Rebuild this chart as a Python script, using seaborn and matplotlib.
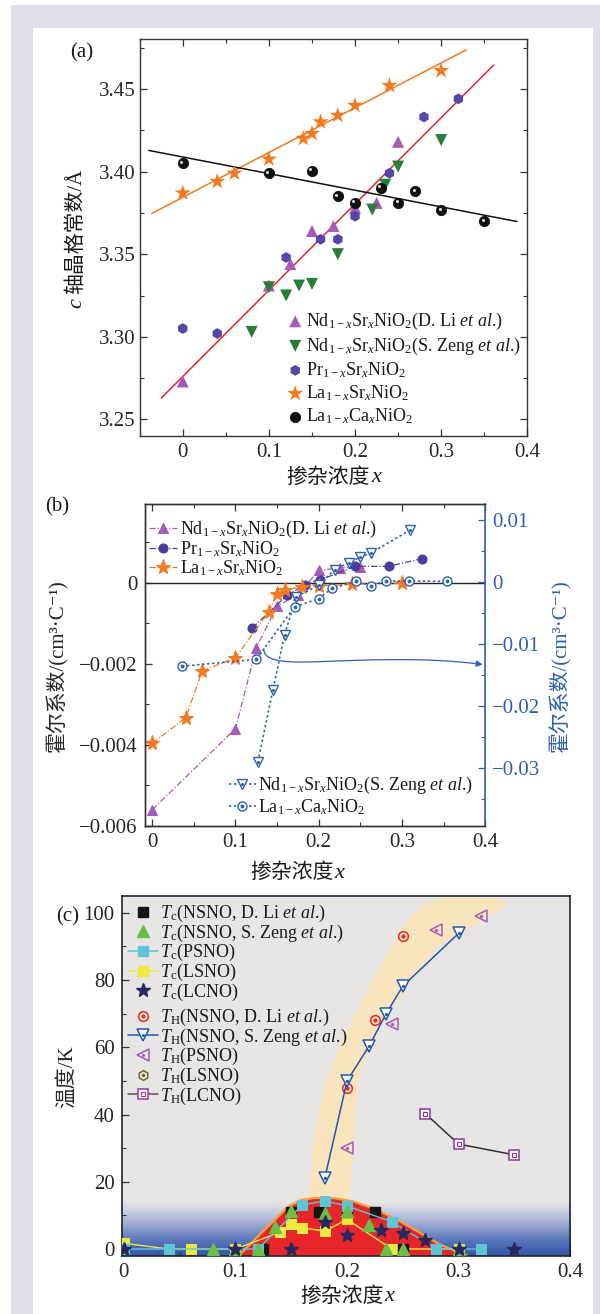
import numpy as np
import seaborn as sns
import matplotlib.pyplot as plt
import matplotlib.transforms as mtransforms
from matplotlib.path import Path
from matplotlib.patches import Rectangle, FancyArrowPatch
from matplotlib.colors import LinearSegmentedColormap
from matplotlib.lines import Line2D
from matplotlib.legend_handler import HandlerTuple
from matplotlib.ticker import MultipleLocator, FuncFormatter

# ---------------- data: panel (a), c-axis lattice constant ----------------
nd_li_x = [0, 0.1, 0.125, 0.15, 0.175, 0.2, 0.225, 0.25]
nd_li_c = [3.273, 3.331, 3.344, 3.364, 3.367, 3.378, 3.381, 3.418]
nd_zeng_x = [0.08, 0.1, 0.12, 0.135, 0.15, 0.18, 0.22, 0.235, 0.25, 0.3]
nd_zeng_c = [3.303, 3.330, 3.325, 3.331, 3.332, 3.350, 3.377, 3.392, 3.403, 3.419]
pr_x = [0, 0.04, 0.12, 0.16, 0.18, 0.2, 0.24, 0.28, 0.32]
pr_c = [3.305, 3.302, 3.348, 3.359, 3.359, 3.373, 3.399, 3.433, 3.444]
la_sr_x = [0, 0.04, 0.06, 0.1, 0.14, 0.15, 0.16, 0.18, 0.2, 0.24, 0.3]
la_sr_c = [3.387, 3.394, 3.399, 3.4075, 3.420, 3.423, 3.430, 3.434, 3.440, 3.452, 3.461]
la_ca_x = [0, 0.1, 0.15, 0.18, 0.2, 0.23, 0.25, 0.27, 0.3, 0.35]
la_ca_c = [3.405, 3.399, 3.4005, 3.385, 3.381, 3.390, 3.381, 3.388, 3.3765, 3.370]
# linear fits: slope, intercept, x range
fit_nd = (0.522, 3.276, -0.025, 0.361)
fit_la_sr = (0.271, 3.3844, -0.036, 0.329)
fit_la_ca = (-0.1006, 3.4088, -0.0395, 0.388)

# ---------------- data: panel (b), Hall coefficient ----------------
hall_li_x = [0, 0.1, 0.125, 0.15, 0.175, 0.2, 0.225, 0.25]
hall_li = [-0.0056, -0.0036, -0.0016, -0.00058, -0.0003, 0.0003, 0.00036, 0.00039]
hall_pr_x = [0.12, 0.162, 0.184, 0.202, 0.244, 0.284, 0.324]
hall_pr = [-0.00112, -0.00031, -0.00005, 0.00007, 0.0004, 0.0004, 0.00059]
hall_la_sr_x = [0, 0.04, 0.06, 0.1, 0.14, 0.15, 0.16, 0.18, 0.2, 0.24, 0.3]
hall_la_sr = [-0.00396, -0.00334, -0.00218, -0.00185, -0.00072, -0.00027,
              -0.00018, -0.0001, -0.00008, -0.00004, -0.00001]
hall_zeng_x = [0.127, 0.145, 0.159, 0.173, 0.2, 0.219, 0.236, 0.25, 0.263, 0.31]
hall_zeng = [-0.029, -0.0174, -0.0085, -0.0024, -0.0005, 0.002, 0.0031, 0.004, 0.0047, 0.0084]
hall_la_ca_x = [0.036, 0.125, 0.171, 0.2, 0.216, 0.245, 0.263, 0.281, 0.308, 0.354]
hall_la_ca = [-0.0136, -0.0125, -0.0040, -0.0027, -0.0010, 0.0001, -0.0006, 0.00016, 0.00016, 0.0001]

# ---------------- data: panel (c), phase diagram ----------------
tc_li_x = [0.125, 0.15, 0.175, 0.2, 0.225, 0.25]
tc_li = [0, 11, 10.9, 11, 10.9, 0]
tc_zeng_x = [0.08, 0.1, 0.12, 0.135, 0.15, 0.18, 0.2, 0.22, 0.235, 0.25, 0.3]
tc_zeng = [0, 0, 0, 6.6, 11.3, 10.6, 11.4, 7.2, 0, 0, 0]
tc_psno_x = [0, 0.04, 0.12, 0.16, 0.18, 0.2, 0.24, 0.28, 0.32]
tc_psno = [0, 0, 0, 13.1, 14.3, 12.8, 8.1, 0, 0]
tc_lsno_x = [0, 0.04, 0.06, 0.1, 0.14, 0.15, 0.16, 0.18, 0.2, 0.24, 0.3]
tc_lsno = [1.7, 0, 0, 0, 5, 7.4, 6.3, 5.3, 8.8, 0, 0]
tc_lcno_x = [0, 0.1, 0.15, 0.18, 0.2, 0.23, 0.25, 0.27, 0.3, 0.35]
tc_lcno = [0, 0, 0, 7.9, 4.2, 5.6, 4.7, 2.7, 0, 0]
th_li_x = [0.2, 0.225, 0.25]
th_li = [48, 68, 93]
th_zeng_x = [0.18, 0.2, 0.22, 0.235, 0.25, 0.3]
th_zeng = [21, 50, 60.5, 70, 78.2, 93.9]
th_psno_x = [0.2, 0.24, 0.28, 0.32]
th_psno = [30, 67, 95, 99]
th_lcno_x = [0.27, 0.3, 0.35]
th_lcno = [40.3, 31.2, 28]
# shaded guides (superconducting dome and T_H band)
dome_x = [0.103, 0.12, 0.135, 0.147, 0.159, 0.171, 0.189, 0.206, 0.227, 0.248, 0.266, 0.284, 0.308]
dome_T = [-2, 3.7, 8.6, 12.6, 14.6, 15.2, 15.1, 14.1, 11.6, 8.1, 4.7, 1.2, -2]
band_T = [12, 15.6, 20.5, 30.4, 40.3, 50.2, 60.2, 70, 80, 90, 99.8, 103, 104.5]
band_left = [0.175, 0.165, 0.166, 0.169, 0.174, 0.181, 0.193, 0.2065, 0.222, 0.239, 0.258, 0.27, 0.285]
band_right = [0.197, 0.202, 0.203, 0.205, 0.2065, 0.21, 0.219, 0.236, 0.258, 0.281, 0.33, 0.345, 0.335]

# ---------------- style ----------------
sns.set_theme(style='ticks')
plt.rcParams['font.family'] = ['Liberation Serif', 'Noto Sans CJK SC', 'DejaVu Serif']
plt.rcParams['mathtext.fontset'] = 'custom'
plt.rcParams['mathtext.rm'] = 'Liberation Serif'
plt.rcParams['mathtext.it'] = 'Liberation Serif:italic'
plt.rcParams['mathtext.bf'] = 'Liberation Serif:bold'
plt.rcParams['text.color'] = '#1a1a1a'

purple = '#a55bb8'
dgreen = '#2b7b3b'
indigo = '#5447a8'
orange = '#f47a20'
blue = '#2f5fae'
lav = '#e0dee9'

W, H = 600, 1314
fig = plt.figure(figsize=(6, 13.14), dpi=100, facecolor='white')


def fig_axes(l, t, r, b):
    return fig.add_axes([l / W, 1 - b / H, (r - l) / W, (b - t) / H])


# lavender page frame
for (x0, y0, x1, y1) in [(11, 5, 33, 1314), (11, 5, 600, 28), (593, 5, 600, 1314)]:
    fig.add_artist(Rectangle((x0 / W, 1 - y1 / H), (x1 - x0) / W, (y1 - y0) / H,
                             transform=fig.transFigure, color=lav, lw=0, zorder=-5))

ax_a = fig_axes(139.7, 39.3, 527.3, 436)
ax_b = fig_axes(144.6, 504.3, 485.2, 826)
ax_c = fig_axes(121.7, 896, 570.2, 1255.7)

TICK = 15
LEG = 13
LAB = 15


def style_axes(ax, pad=5):
    for s in ax.spines.values():
        s.set_linewidth(1.0)
        s.set_color('#333333')
    ax.tick_params(which='both', direction='in', labelsize=TICK, pad=pad, color='#333333')
    ax.tick_params(which='major', length=5, width=0.9)
    ax.tick_params(which='minor', length=3, width=0.8)


def x_label(ax, cx, cy):
    # "掺杂浓度" + italic x, centred at figure pixel (cx, cy)
    split = (cx + 37) / W
    fig.text(split, 1 - cy / H, '掺杂浓度', fontsize=LAB, ha='right', va='center')
    fig.text(split + 1 / W, 1 - cy / H, 'x', fontsize=LAB + 1, style='italic',
             ha='left', va='center')


def drop_auto_legend(ax):
    if ax.get_legend() is not None:
        ax.get_legend().remove()


fmt_g = FuncFormatter(lambda v, _: '0' if abs(v) < 1e-12 else f'{v:g}'.replace('-', '\u2212'))

# ================= panel (a) =================
ax = ax_a
for (k, b0, x0, x1), col in [(fit_nd, '#e8262a'), (fit_la_sr, orange), (fit_la_ca, '#111111')]:
    xx = np.array([x0, x1])
    ax.plot(xx, k * xx + b0, color=col, lw=1.1, zorder=1)

sns.scatterplot(x=nd_li_x, y=nd_li_c, marker='^', s=75, color=purple, edgecolor='none',
                label='Nd$_{1-x}$Sr$_x$NiO$_2$(D. Li $et$ $al$.)', ax=ax, zorder=3)
sns.scatterplot(x=nd_zeng_x, y=nd_zeng_c, marker='v', s=75, color=dgreen, edgecolor='none',
                label='Nd$_{1-x}$Sr$_x$NiO$_2$(S. Zeng $et$ $al$.)', ax=ax, zorder=3)
sns.scatterplot(x=pr_x, y=pr_c, marker='h', s=60, color=indigo, edgecolor='none',
                label='Pr$_{1-x}$Sr$_x$NiO$_2$', ax=ax, zorder=3)
sns.scatterplot(x=la_sr_x, y=la_sr_c, marker='*', s=150, color=orange, edgecolor='none',
                label='La$_{1-x}$Sr$_x$NiO$_2$', ax=ax, zorder=3)
sns.scatterplot(x=la_ca_x, y=la_ca_c, marker='o', s=55, color='#101010', edgecolor='#101010',
                label='La$_{1-x}$Ca$_x$NiO$_2$', ax=ax, zorder=3)
hl = mtransforms.offset_copy(ax.transData, fig=fig, x=-1.6, y=1.6, units='dots')
ax.scatter(la_ca_x, la_ca_c, s=5, color='#d8d8d8', lw=0, transform=hl, zorder=4)

ax.set_xlim(-0.05, 0.4)
ax.set_ylim(3.24, 3.48)
ax.xaxis.set_major_locator(MultipleLocator(0.1))
ax.xaxis.set_minor_locator(MultipleLocator(0.05))
ax.yaxis.set_major_locator(MultipleLocator(0.05))
ax.yaxis.set_minor_locator(MultipleLocator(0.025))
ax.xaxis.set_major_formatter(fmt_g)
ax.yaxis.set_major_formatter(FuncFormatter(lambda v, _: f'{v:.2f}'))
style_axes(ax)
ax.tick_params(which='both', top=True, right=True)
ax.tick_params(axis='y', pad=3)
x_label(ax, 333, 478)
# y label: italic c followed by the Chinese text, reading upwards
fig.text(76.5 / W, 1 - 308 / H, 'c', fontsize=LAB + 1, style='italic', rotation=90,
         ha='center', va='bottom')
fig.text(76.5 / W, 1 - 294 / H, '轴晶格常数/Å', fontsize=LAB, rotation=90,
         ha='center', va='bottom')
h, l = ax.get_legend_handles_labels()
ax.legend(h, l, loc='upper left', bbox_to_anchor=(288 / W, 1 - 311 / H),
          bbox_transform=fig.transFigure, frameon=False, fontsize=LEG,
          handlelength=0.8, handletextpad=0.2, labelspacing=0.19,
          borderpad=0, borderaxespad=0)
fig.text(82 / W, 1 - 53 / H, '(a)', fontsize=15, ha='center', va='center')

# ================= panel (b) =================
ax = ax_b
ax2 = ax_b.twinx()
ax.axhline(0, color='#222222', lw=1.0, zorder=1)
dashdot = (0, (5, 1.6, 1, 1.6))
dots = (0, (1.4, 1.6))

sns.lineplot(x=hall_li_x, y=hall_li, sort=False, estimator=None, ax=ax, color=purple, lw=0.9,
             linestyle=dashdot, marker='^', markersize=7, mec=purple, mfc=purple,
             label='Nd$_{1-x}$Sr$_x$NiO$_2$(D. Li $et$ $al$.)')
sns.lineplot(x=hall_pr_x, y=hall_pr, sort=False, estimator=None, ax=ax, color='#4a3c9c', lw=0.9,
             linestyle=dashdot, marker='o', markersize=6.5, mec='#4a3c9c', mfc='#4a3c9c',
             label='Pr$_{1-x}$Sr$_x$NiO$_2$')
sns.lineplot(x=hall_la_sr_x, y=hall_la_sr, sort=False, estimator=None, ax=ax, color=orange, lw=0.9,
             linestyle=dashdot, marker='*', markersize=11, mec=orange, mfc=orange,
             label='La$_{1-x}$Sr$_x$NiO$_2$')

sns.lineplot(x=hall_zeng_x, y=hall_zeng, sort=False, estimator=None, ax=ax2, color=blue, lw=1.2,
             linestyle=dots, marker='v', markersize=7, mec=blue, mfc='white', mew=1.0,
             label='Nd$_{1-x}$Sr$_x$NiO$_2$(S. Zeng $et$ $al$.)')
sns.lineplot(x=hall_la_ca_x, y=hall_la_ca, sort=False, estimator=None, ax=ax2, color=blue, lw=1.2,
             linestyle=dots, marker='o', markersize=6.5, mec=blue, mfc='white', mew=1.0,
             label='La$_{1-x}$Ca$_x$NiO$_2$')
ax2.plot(hall_la_ca_x, hall_la_ca, ls='none', marker='o', ms=1.8, color=blue)
ax2.plot(hall_zeng_x, hall_zeng, ls='none', marker='o', ms=1.2, color=blue)

ax.set_xlim(-0.0092, 0.4)
ax.set_ylim(-0.006, 0.00193)
ax2.set_ylim(-0.0394, 0.01254)
ax.xaxis.set_major_locator(MultipleLocator(0.1))
ax.xaxis.set_minor_locator(MultipleLocator(0.05))
ax.yaxis.set_major_locator(MultipleLocator(0.002))
ax.yaxis.set_minor_locator(MultipleLocator(0.001))
ax2.yaxis.set_major_locator(MultipleLocator(0.01))
ax2.yaxis.set_minor_locator(MultipleLocator(0.005))
ax.xaxis.set_major_formatter(fmt_g)
ax.yaxis.set_major_formatter(fmt_g)
ax2.yaxis.set_major_formatter(fmt_g)
style_axes(ax)
style_axes(ax2)
ax.tick_params(which='both', top=True)
ax.spines['right'].set_visible(False)
ax2.spines['right'].set_color(blue)
ax2.spines['right'].set_linewidth(1.2)
ax2.tick_params(axis='y', which='both', colors=blue, labelcolor=blue)
x_label(ax, 296.6, 873.3)
hall_label = '霍尔系数/(cm³·C⁻¹)'
ax.set_ylabel(hall_label, fontsize=LAB, va='center')
ax.yaxis.set_label_coords((57.4 - 144.6) / 340.6, 0.5)
ax2.set_ylabel(hall_label, fontsize=LAB, va='center', color=blue, rotation=90)
ax2.yaxis.set_label_coords((560.6 - 144.6) / 340.6, 0.5)

# arrow: the blue curves belong to the right axis
arrow_path = Path([(0.134, -0.00163), (0.134, -0.0019), (0.15, -0.00199), (0.2, -0.00195),
                   (0.25, -0.00191), (0.33, -0.00183), (0.397, -0.00202)],
                  [Path.MOVETO, Path.CURVE4, Path.CURVE4, Path.CURVE4,
                   Path.CURVE4, Path.CURVE4, Path.CURVE4])
ax.add_patch(FancyArrowPatch(path=arrow_path, arrowstyle='-|>', mutation_scale=9,
                             color=blue, lw=0.9, zorder=2))

h1, l1 = ax.get_legend_handles_labels()
h2, l2 = ax2.get_legend_handles_labels()
drop_auto_legend(ax)
drop_auto_legend(ax2)
leg1 = ax2.legend(h1, l1, loc='upper left', bbox_to_anchor=(149 / W, 1 - 519 / H),
                  bbox_transform=fig.transFigure, frameon=False, fontsize=LEG,
                  handlelength=1.55, handletextpad=0.17, labelspacing=-0.03,
                  borderpad=0, borderaxespad=0)
ax2.add_artist(leg1)
h2 = [(h2[0], Line2D([], [], ls='none', marker='o', ms=1.2, color=blue)),
      (h2[1], Line2D([], [], ls='none', marker='o', ms=1.8, color=blue))]
ax2.legend(h2, l2, loc='upper left', bbox_to_anchor=(229 / W, 1 - 775 / H),
           bbox_transform=fig.transFigure, frameon=False, fontsize=LEG,
           handlelength=1.47, handletextpad=0.14, labelspacing=0.05,
           borderpad=0, borderaxespad=0, handler_map={tuple: HandlerTuple(ndivide=1)})
fig.text(57.4 / W, 1 - 506.7 / H, '(b)', fontsize=15, ha='center', va='center')

# ================= panel (c) =================
ax = ax_c
ax.set_facecolor('#e8e5e5')
grad_cmap = LinearSegmentedColormap.from_list(
    'grad', [(0, '#3254a6'), (0.3, '#5b78bd'), (0.65, '#a9b4d7'), (1, '#e8e5e5')])
ax.imshow(np.linspace(0, 1, 256).reshape(-1, 1), extent=[-0.002, 0.4, -2, 14],
          origin='lower', cmap=grad_cmap, aspect='auto', zorder=0.5, interpolation='bilinear')
ax.fill_betweenx(band_T, band_left, band_right, color='#f8e4bd', lw=0, zorder=1)
ax.fill_between(dome_x, -2, dome_T, color='#e8262a', lw=0, zorder=1.5)
ax.plot(dome_x, dome_T, color='#f2a23a', lw=1.6, zorder=1.6)

c_black, c_green, c_cyan, c_yellow, c_navy = '#161616', '#6cbd45', '#5cc6d6', '#efe840', '#27285f'
c_red, c_bth, c_pur, c_olive, c_sq = '#e8262a', '#2456b0', '#a55bb8', '#6e6e1c', '#8a3aa0'

sns.lineplot(x=tc_lsno_x, y=tc_lsno, sort=False, estimator=None, ax=ax, color=c_yellow, lw=1.0,
             marker='s', markersize=7, mec=c_yellow, mfc=c_yellow, zorder=3)
sns.lineplot(x=tc_psno_x, y=tc_psno, sort=False, estimator=None, ax=ax, color=c_cyan, lw=1.0,
             marker='s', markersize=7, mec=c_cyan, mfc=c_cyan, zorder=3.2)
ax.plot(tc_li_x, tc_li, ls='none', marker='s', ms=7, color=c_black, zorder=3.1)
ax.plot(tc_zeng_x, tc_zeng, ls='none', marker='^', ms=8, color=c_green, zorder=3.3)
ax.plot(tc_lcno_x, tc_lcno, ls='none', marker='*', ms=10, color=c_navy, zorder=3.5)

ax.plot(th_li_x, th_li, ls='none', marker='o', ms=7, mfc='none', mec=c_red, mew=1.1, zorder=4)
ax.plot(th_li_x, th_li, ls='none', marker='o', ms=2, color=c_red, zorder=4)
sns.lineplot(x=th_zeng_x, y=th_zeng, sort=False, estimator=None, ax=ax, color=c_bth, lw=1.1,
             marker='v', markersize=8, mec=c_bth, mfc='white', mew=1.1, zorder=4)
ax.plot(th_zeng_x, th_zeng, ls='none', marker='o', ms=1.3, color=c_bth, zorder=4.1)
ax.plot(th_psno_x, th_psno, ls='none', marker='<', ms=8, mfc='none', mec=c_pur, mew=1.1, zorder=4)
ax.plot(th_psno_x, th_psno, ls='none', marker='o', ms=1.3, color=c_pur, zorder=4)
sns.lineplot(x=th_lcno_x, y=th_lcno, sort=False, estimator=None, ax=ax, color='#333333', lw=1.1,
             marker='s', markersize=7, mec=c_sq, mfc='white', mew=1.1, zorder=4)
ax.plot(th_lcno_x, th_lcno, ls='none', marker='s', ms=2.2, mfc='none', mec=c_sq, mew=0.8, zorder=4.1)

ax.set_xlim(-0.002, 0.4)
ax.set_ylim(-2, 105)
ax.xaxis.set_major_locator(MultipleLocator(0.1))
ax.xaxis.set_minor_locator(MultipleLocator(0.05))
ax.yaxis.set_major_locator(MultipleLocator(20))
ax.yaxis.set_minor_locator(MultipleLocator(10))
ax.xaxis.set_major_formatter(fmt_g)
ax.yaxis.set_major_formatter(fmt_g)
style_axes(ax)
for s in ax.spines.values():
    s.set_color('#1e2436')
    s.set_linewidth(1.2)
x_label(ax, 346.3, 1296.7)
ax.set_ylabel('温度/K', fontsize=LAB, va='center')
ax.yaxis.set_label_coords((67 - 121.7) / 448.5, 0.498)


# legends for panel (c)
def mk(marker, color, ms, mfc=None, ls='none', lc=None, mew=1.0):
    return Line2D([], [], ls=ls, color=lc or color, lw=1.1, marker=marker, ms=ms,
                  mfc=color if mfc is None else mfc, mec=color, mew=mew)


def dot(color, ms=1.5, marker='o', mfc=None):
    return Line2D([], [], ls='none', marker=marker, ms=ms, color=color,
                  mfc=color if mfc is None else mfc, mec=color, mew=0.8)


tc_handles = [mk('s', c_black, 7), mk('^', c_green, 8), mk('s', c_cyan, 7, ls='-'),
              mk('s', c_yellow, 7, ls='-'), mk('*', c_navy, 10)]
tc_labels = ['$T_\\mathrm{c}$(NSNO, D. Li $et$ $al$.)', '$T_\\mathrm{c}$(NSNO, S. Zeng $et$ $al$.)',
             '$T_\\mathrm{c}$(PSNO)', '$T_\\mathrm{c}$(LSNO)', '$T_\\mathrm{c}$(LCNO)']
th_handles = [(mk('o', c_red, 7, mfc='none', mew=1.1), dot(c_red, 2)),
              (mk('v', c_bth, 8, mfc='white', ls='-', mew=1.1), dot(c_bth, 1.3)),
              (mk('<', c_pur, 8, mfc='none', mew=1.1), dot(c_pur, 1.3)),
              (mk('h', c_olive, 7, mfc='none', mew=1.1), dot(c_olive, 1.6)),
              (mk('s', c_sq, 7, mfc='white', ls='-', lc='#555555', mew=1.1),
               dot(c_sq, 2.2, 's', 'none'))]
th_labels = ['$T_\\mathrm{H}$(NSNO, D. Li $et$ $al$.)', '$T_\\mathrm{H}$(NSNO, S. Zeng $et$ $al$.)',
             '$T_\\mathrm{H}$(PSNO)', '$T_\\mathrm{H}$(LSNO)', '$T_\\mathrm{H}$(LCNO)']
drop_auto_legend(ax)
legc1 = ax.legend(tc_handles, tc_labels, loc='upper left', bbox_to_anchor=(128 / W, 1 - 903 / H),
                  bbox_transform=fig.transFigure, frameon=False, fontsize=LEG,
                  handlelength=1.67, handletextpad=0.1, labelspacing=-0.08,
                  borderpad=0, borderaxespad=0)
ax.add_artist(legc1)
ax.legend(th_handles, th_labels, loc='upper left', bbox_to_anchor=(128 / W, 1 - 1007 / H),
          bbox_transform=fig.transFigure, frameon=False, fontsize=LEG,
          handlelength=1.67, handletextpad=0.1, labelspacing=-0.08,
          borderpad=0, borderaxespad=0, handler_map={tuple: HandlerTuple(ndivide=1)})
fig.text(68 / W, 1 - 916.7 / H, '(c)', fontsize=15, ha='center', va='center')

fig.savefig('out.png', dpi=100)
